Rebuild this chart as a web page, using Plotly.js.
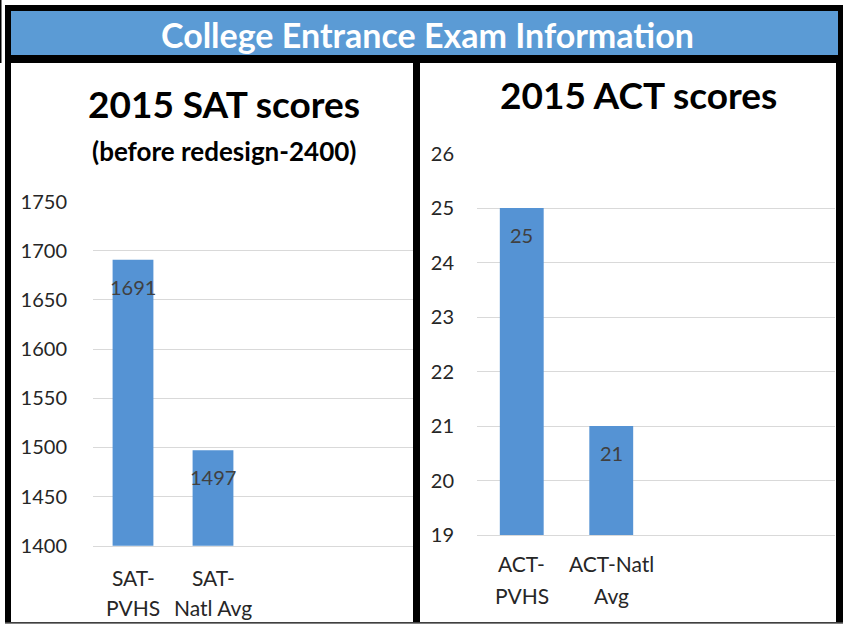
<!DOCTYPE html>
<html>
<head>
<meta charset="utf-8">
<script src="https://cdn.plot.ly/plotly-3.0.1.min.js"></script>
<style>html,body{margin:0;padding:0;background:#fff;}#chart{width:844px;height:624px;}</style>
</head>
<body>
<div id="chart"></div>
<script>
// ---- data ----
const satCategories = ["SAT-PVHS", "SAT-Natl Avg"];
const satValues = [1691, 1497];
const satTickLines = [["SAT-", "PVHS"], ["SAT-", "Natl Avg"]];
const satTickVals = [1400, 1450, 1500, 1550, 1600, 1650, 1700, 1750];

const actCategories = ["ACT-PVHS", "ACT-Natl Avg"];
const actValues = [25, 21];
const actTickLines = [["ACT-", "PVHS"], ["ACT-Natl", "Avg"]];
const actTickVals = [19, 20, 21, 22, 23, 24, 25, 26];

const bannerTitle = "College Entrance Exam Information";
const satTitle = "2015 SAT scores";
const satSubtitle = "(before redesign-2400)";
const actTitle = "2015 ACT scores";

// ---- helpers (pixel -> paper) ----
const W = 844, H = 624;
const px = x => x / W;
const py = y => 1 - y / H;

const FONT = "Lato, 'Open Sans', sans-serif";
const barColor = "#5593d4";
const gridColor = "#d9d9d9";

const traces = [
  {type: "bar", x: satCategories, y: satValues, xaxis: "x", yaxis: "y",
   marker: {color: barColor}, width: 0.51, hoverinfo: "x+y"},
  {type: "bar", x: actCategories, y: actValues, xaxis: "x2", yaxis: "y2",
   marker: {color: barColor}, width: 0.49, hoverinfo: "x+y"}
];

const shapes = [
  {type: "rect", xref: "paper", yref: "paper", x0: px(0), x1: px(1.5), y0: py(63), y1: py(0),
   fillcolor: "#000", line: {width: 0}, layer: "below"},
  {type: "rect", xref: "paper", yref: "paper", x0: px(5), x1: px(843), y0: py(624), y1: py(5),
   fillcolor: "#000", line: {width: 0}, layer: "below"},
  {type: "rect", xref: "paper", yref: "paper", x0: px(11), x1: px(838), y0: py(55), y1: py(11),
   fillcolor: "#5b9bd5", line: {width: 0}, layer: "below"},
  {type: "rect", xref: "paper", yref: "paper", x0: px(11), x1: px(413), y0: py(622), y1: py(63),
   fillcolor: "#fff", line: {width: 0}, layer: "below"},
  {type: "rect", xref: "paper", yref: "paper", x0: px(420), x1: px(836), y0: py(622), y1: py(63),
   fillcolor: "#fff", line: {width: 0}, layer: "below"},
  {type: "rect", xref: "paper", yref: "paper", x0: px(5), x1: px(843), y0: py(624), y1: py(622.5),
   fillcolor: "#808080", line: {width: 0}, layer: "below"}
];

const annotations = [
  {xref: "paper", yref: "paper", x: px(427), y: py(34), text: "<b>" + bannerTitle + "</b>",
   showarrow: false, xanchor: "center", yanchor: "middle", font: {family: FONT, size: 34, color: "#fff"}},
  {xref: "paper", yref: "paper", x: px(224), y: py(104), text: "<b>" + satTitle + "</b>",
   showarrow: false, xanchor: "center", yanchor: "middle", font: {family: FONT, size: 37, color: "#000"}},
  {xref: "paper", yref: "paper", x: px(224), y: py(151), text: "<b>" + satSubtitle + "</b>",
   showarrow: false, xanchor: "center", yanchor: "middle", font: {family: FONT, size: 26, color: "#000"}},
  {xref: "paper", yref: "paper", x: px(638), y: py(94), text: "<b>" + actTitle + "</b>",
   showarrow: false, xanchor: "center", yanchor: "middle", font: {family: FONT, size: 37, color: "#000"}}
];

satCategories.forEach((c, i) => annotations.push({
  xref: "x", yref: "y", x: c, y: satValues[i], text: String(satValues[i]), showarrow: false,
  yanchor: "middle", yshift: -27, font: {family: FONT, size: 20, color: "#404040"}}));
actCategories.forEach((c, i) => annotations.push({
  xref: "x2", yref: "y2", x: c, y: actValues[i], text: String(actValues[i]), showarrow: false,
  yanchor: "middle", yshift: -27, font: {family: FONT, size: 20, color: "#404040"}}));

satCategories.forEach((c, i) => satTickLines[i].forEach((line, j) => annotations.push({
  xref: "x", yref: "paper", x: c, y: py(577 + j * 30), text: line, showarrow: false,
  yanchor: "middle", font: {family: FONT, size: 21, color: "#262626"}})));
actCategories.forEach((c, i) => actTickLines[i].forEach((line, j) => annotations.push({
  xref: "x2", yref: "paper", x: c, y: py(563 + j * 32), text: line, showarrow: false,
  yanchor: "middle", font: {family: FONT, size: 21, color: "#262626"}})));

const yAxisCommon = {
  showgrid: true, gridcolor: gridColor, gridwidth: 1, zeroline: false, showline: false,
  ticks: "", tickfont: {family: FONT, size: 20, color: "#262626"}, fixedrange: true
};
const xAxisCommon = {
  type: "category", showticklabels: false, ticks: "", showgrid: false, zeroline: false,
  showline: true, linecolor: gridColor, linewidth: 1, range: [-0.5, 3.5], fixedrange: true
};

const layout = {
  width: W, height: H,
  margin: {l: 0, r: 0, t: 0, b: 0, pad: 0},
  paper_bgcolor: "#fff", plot_bgcolor: "rgba(0,0,0,0)",
  showlegend: false,
  xaxis: Object.assign({}, xAxisCommon, {domain: [px(93), px(413)], anchor: "y"}),
  yaxis: Object.assign({}, yAxisCommon, {domain: [py(545.7), py(201.7)], range: [1400, 1750],
    tickvals: satTickVals, ticklabelstandoff: 25, anchor: "x"}),
  xaxis2: Object.assign({}, xAxisCommon, {domain: [px(477), px(835)], anchor: "y2"}),
  yaxis2: Object.assign({}, yAxisCommon, {domain: [py(535), py(153.5)], range: [19, 26],
    tickvals: actTickVals, ticklabelstandoff: 22, anchor: "x2"}),
  shapes: shapes,
  annotations: annotations
};

Plotly.newPlot("chart", traces, layout, {displayModeBar: false, staticPlot: true});
</script>
</body>
</html>
